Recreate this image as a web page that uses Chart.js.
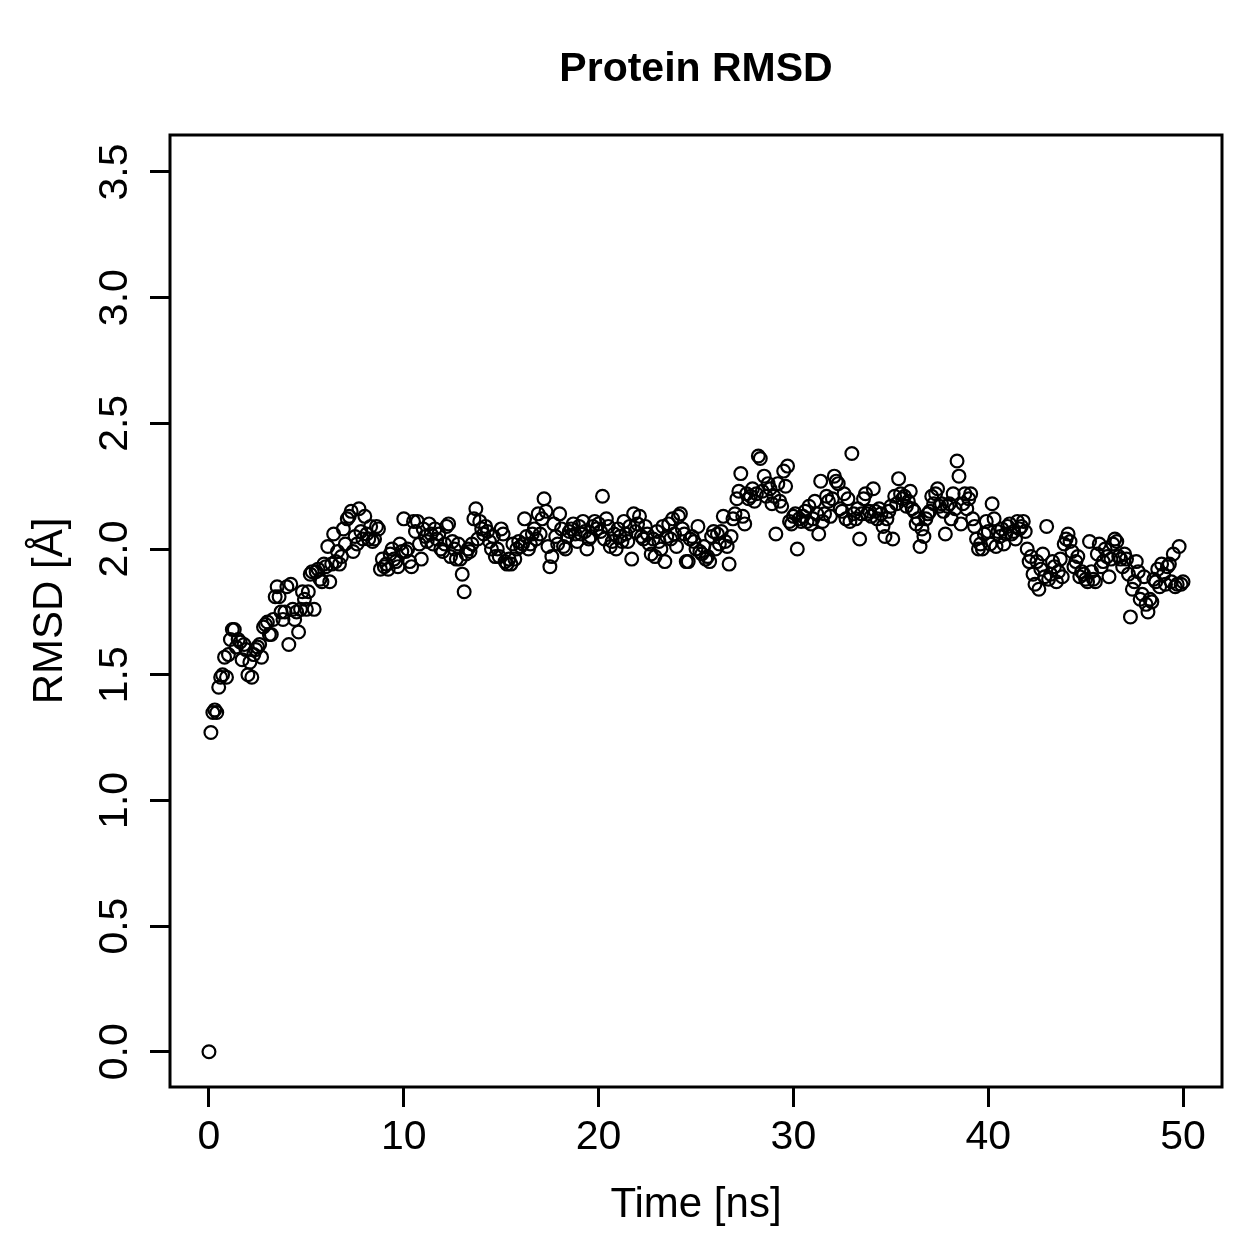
<!DOCTYPE html>
<html>
<head>
<meta charset="utf-8">
<script src="https://cdn.jsdelivr.net/npm/chart.js@4"></script>
<style>
  html, body { margin: 0; padding: 0; background: #fff; }
  #wrap { width: 1259px; height: 1259px; }
</style>
</head>
<body>
<div id="wrap"><canvas id="rmsdChart" width="1259" height="1259"></canvas></div>
<script>
// sampling interval of the trajectory (ns)
const timeStep = 0.1;

// RMSD values, one row per ns
const rmsd = [
  0.00, 1.27, 1.35, 1.36, 1.35, 1.45, 1.49, 1.50, 1.57, 1.49,
  1.58, 1.64, 1.68, 1.68, 1.61, 1.64, 1.63, 1.56, 1.62, 1.60,
  1.50, 1.55, 1.49, 1.58, 1.60, 1.61, 1.62, 1.57, 1.69, 1.70,
  1.71, 1.66, 1.66, 1.72, 1.81, 1.85, 1.81, 1.75, 1.72, 1.75,
  1.85, 1.62, 1.86, 1.76, 1.72, 1.75, 1.67, 1.76, 1.83, 1.80,
  1.76, 1.83, 1.90, 1.91, 1.76, 1.91, 1.92, 1.88, 1.87, 1.94,
  1.93, 2.01, 1.87, 1.94, 2.06, 1.95, 1.99, 1.94, 1.97, 2.08,
  2.02, 2.12, 2.13, 2.15, 1.99, 2.05, 2.02, 2.16, 2.07, 2.04,
  2.13, 2.06, 2.04, 2.09, 2.03, 2.04, 2.09, 2.08, 1.92, 1.96,
  1.93, 1.94, 1.92, 1.98, 2.00, 1.96, 1.95, 1.93, 2.02, 1.99,
  2.12, 1.99, 2.00, 1.95, 1.93, 2.11, 2.07, 2.11, 2.02, 1.96,
  2.08, 2.05, 2.03, 2.10, 2.06, 2.02, 2.08, 2.04, 2.06, 2.00,
  1.99, 2.02, 2.09, 2.10, 1.97, 2.03, 2.00, 1.96, 2.02, 1.96,
  1.90, 1.83, 1.98, 2.00, 1.99, 2.02, 2.12, 2.16, 2.04, 2.11,
  2.08, 2.06, 2.09, 2.07, 2.03, 2.00, 2.05, 1.97, 2.00, 1.97,
  2.08, 2.06, 1.95, 1.94, 1.96, 1.94, 2.02, 1.96, 2.00, 2.03,
  2.01, 2.02, 2.12, 2.05, 2.00, 2.02, 2.06, 2.08, 2.04, 2.14,
  2.06, 2.12, 2.20, 2.15, 2.01, 1.93, 1.97, 2.10, 2.05, 2.02,
  2.14, 2.08, 2.01, 2.00, 2.05, 2.07, 2.08, 2.10, 2.06, 2.03,
  2.09, 2.06, 2.11, 2.07, 2.00, 2.04, 2.05, 2.09, 2.11, 2.08,
  2.10, 2.07, 2.21, 2.04, 2.12, 2.09, 2.01, 2.03, 2.06, 2.00,
  2.08, 2.05, 2.03, 2.11, 2.06, 2.03, 2.09, 1.96, 2.14, 2.07,
  2.10, 2.13, 2.05, 2.04, 2.09, 2.06, 2.02, 1.98, 2.04, 1.97,
  2.07, 2.03, 2.00, 2.09, 1.95, 2.05, 2.10, 2.04, 2.12, 2.06,
  2.01, 2.13, 2.14, 2.08, 2.06, 1.95, 1.95, 2.04, 2.05, 2.03,
  2.00, 2.09, 1.99, 1.98, 2.01, 1.96, 1.97, 1.95, 2.05, 2.07,
  2.00, 2.06, 2.02, 2.07, 2.13, 2.03, 2.01, 1.94, 2.05, 2.12,
  2.14, 2.20, 2.23, 2.30, 2.13, 2.10, 2.22, 2.20, 2.21, 2.24,
  2.19, 2.22, 2.37, 2.36, 2.23, 2.29, 2.21, 2.26, 2.24, 2.18,
  2.21, 2.06, 2.26, 2.19, 2.17, 2.31, 2.25, 2.33, 2.11, 2.10,
  2.13, 2.14, 2.00, 2.12, 2.11, 2.13, 2.15, 2.11, 2.17, 2.10,
  2.12, 2.19, 2.14, 2.06, 2.27, 2.11, 2.14, 2.21, 2.19, 2.13,
  2.20, 2.29, 2.27, 2.26, 2.16, 2.15, 2.22, 2.12, 2.20, 2.11,
  2.38, 2.14, 2.12, 2.16, 2.04, 2.14, 2.20, 2.22, 2.14, 2.15,
  2.13, 2.24, 2.15, 2.12, 2.16, 2.14, 2.09, 2.05, 2.12, 2.15,
  2.17, 2.04, 2.21, 2.18, 2.28, 2.22, 2.20, 2.21, 2.17, 2.19,
  2.23, 2.16, 2.15, 2.10, 2.12, 2.01, 2.08, 2.05, 2.12, 2.14,
  2.15, 2.21, 2.18, 2.22, 2.24, 2.17, 2.18, 2.15, 2.06, 2.17,
  2.18, 2.12, 2.22, 2.16, 2.35, 2.29, 2.10, 2.18, 2.22, 2.16,
  2.20, 2.22, 2.12, 2.09, 2.04, 2.00, 2.02, 2.00, 2.06, 2.11,
  2.07, 2.02, 2.18, 2.12, 2.01, 2.07, 2.05, 2.08, 2.02, 2.06,
  2.09, 2.10, 2.06, 2.07, 2.04, 2.11, 2.08, 2.09, 2.11, 2.07,
  2.00, 1.95, 1.97, 1.90, 1.86, 1.95, 1.84, 1.92, 1.98, 1.89,
  2.09, 1.88, 1.90, 1.95, 1.93, 1.87, 1.91, 1.96, 1.89, 2.02,
  2.04, 2.06, 2.03, 1.99, 1.93, 1.95, 1.97, 1.89, 1.91, 1.90,
  1.88, 1.87, 2.03, 1.91, 1.88, 1.87, 1.98, 2.02, 1.93, 1.95,
  2.00, 1.97, 1.89, 1.96, 2.02, 2.04, 2.03, 1.97, 1.96, 1.93,
  1.98, 1.96, 1.90, 1.73, 1.84, 1.87, 1.95, 1.91, 1.80, 1.82,
  1.89, 1.78, 1.75, 1.80, 1.79, 1.88, 1.87, 1.92, 1.85, 1.94,
  1.90, 1.86, 1.93, 1.94, 1.87, 1.98, 1.85, 1.86, 2.01, 1.86,
  1.87
];

const xTicks = [0, 10, 20, 30, 40, 50];
const yTicks = [0.0, 0.5, 1.0, 1.5, 2.0, 2.5, 3.0, 3.5];

const FONT = '"Liberation Sans", Arial, Helvetica, sans-serif';

const points = rmsd.map((v, i) => ({ x: Math.round(i * timeStep * 10) / 10, y: v }));

// R style extras: full box, bold main title, rotated y tick labels
const rStyle = {
    id: 'rStyle',
    afterDraw(chart) {
        const ctx = chart.ctx;
        const a = chart.chartArea;
        ctx.save();
        ctx.strokeStyle = '#000';
        ctx.lineWidth = 3;
        ctx.strokeRect(a.left, a.top, a.right - a.left, a.bottom - a.top);

        ctx.fillStyle = '#000';
        ctx.font = 'bold 41px ' + FONT;
        ctx.textAlign = 'center';
        ctx.textBaseline = 'middle';
        ctx.fillText('Protein RMSD', (a.left + a.right) / 2, 70);

        const ys = chart.scales.y;
        ctx.font = '41px ' + FONT;
        ys.ticks.forEach(t => {
            const py = ys.getPixelForValue(t.value);
            ctx.save();
            ctx.translate(116, py);
            ctx.rotate(-Math.PI / 2);
            ctx.fillText(t.value.toFixed(1), 0, 0);
            ctx.restore();
        });
        ctx.restore();
    }
};

const ctx = document.getElementById('rmsdChart').getContext('2d');
new Chart(ctx, {
    type: 'scatter',
    data: {
        datasets: [{
            label: 'RMSD',
            data: points,
            pointStyle: 'circle',
            pointRadius: 6.4,
            pointBorderWidth: 2.2,
            pointBorderColor: '#000',
            pointBackgroundColor: 'rgba(0,0,0,0)'
        }]
    },
    options: {
        responsive: false,
        animation: false,
        layout: { padding: { top: 135, right: 37, bottom: 0, left: 0 } },
        plugins: {
            legend: { display: false },
            title: { display: false },
            tooltip: { enabled: false }
        },
        scales: {
            x: {
                type: 'linear',
                min: -2,
                max: 52,
                afterBuildTicks: s => { s.ticks = xTicks.map(v => ({ value: v })); },
                afterFit: s => { s.height = 172; },
                border: { display: false },
                grid: { drawOnChartArea: false, drawTicks: true, tickLength: 20, tickWidth: 3, tickColor: '#000' },
                ticks: {
                    color: '#000',
                    padding: 6,
                    maxRotation: 0,
                    font: { family: FONT, size: 41 }
                },
                title: {
                    display: true,
                    text: 'Time [ns]',
                    color: '#000',
                    font: { family: FONT, size: 42 },
                    padding: { top: 0, bottom: 28 }
                }
            },
            y: {
                type: 'linear',
                min: -0.14,
                max: 3.647,
                afterBuildTicks: s => { s.ticks = yTicks.map(v => ({ value: v })); },
                afterFit: s => { s.width = 170; },
                border: { display: false },
                grid: { drawOnChartArea: false, drawTicks: true, tickLength: 20, tickWidth: 3, tickColor: '#000' },
                ticks: { display: false },
                title: {
                    display: true,
                    text: 'RMSD [Å]',
                    color: '#000',
                    font: { family: FONT, size: 42 },
                    padding: { top: 25, bottom: 0 }
                }
            }
        }
    },
    plugins: [rStyle]
});
</script>
</body>
</html>
